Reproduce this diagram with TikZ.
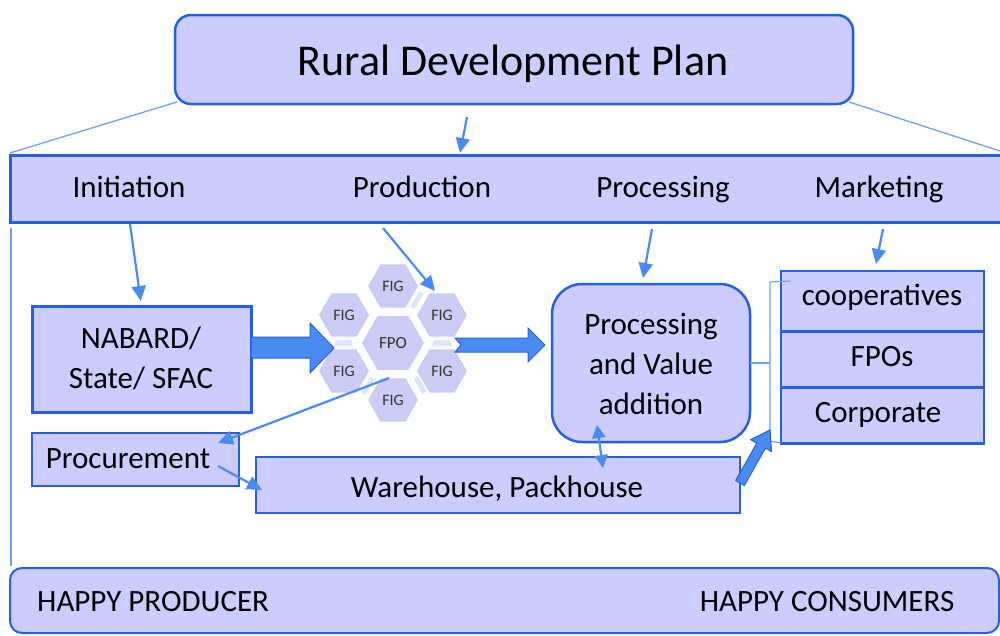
\documentclass[tikz,border=0pt]{standalone}
\usepackage{fontspec}
\setmainfont{Carlito}
\usetikzlibrary{arrows.meta,shapes.geometric}
\definecolor{boxfill}{HTML}{CCCCFF}
\definecolor{boxline}{HTML}{2560E4}
\definecolor{arrowblue}{HTML}{4A8BF2}
\definecolor{thinline}{HTML}{6AA2F2}
\definecolor{hexfill}{HTML}{CBCBF3}
\definecolor{gapfill}{HTML}{DDE5F8}
\begin{document}
\begin{tikzpicture}[x=1pt,y=-1pt,
  box/.style={draw=boxline,fill=boxfill,line width=2.5pt,inner sep=0pt,outer sep=0pt},
  lbl/.style={inner sep=0pt,font=\fontsize{31}{40}\selectfont,text=black,align=center},
  hexcell/.style={regular polygon,regular polygon sides=6,fill=hexfill,inner sep=0pt,
    minimum size=50pt,font=\fontsize{16}{18}\selectfont,text=black!80},
  gap/.style={fill=gapfill},
  thinarrow/.style={draw=arrowblue,line width=2.2pt,-{Triangle[length=15pt,width=14pt]}},
  guide/.style={draw=thinline,line width=1.3pt},
  fatarrow/.style={fill=arrowblue,draw=boxline,line width=1pt,line join=miter}
]
\useasboundingbox (0,0) rectangle (1000,635);

% ---- headline box and the bar of stages
\node[box,rounded corners=16pt,minimum width=678pt,minimum height=89pt] (plan) at (514,59.5) {};
\node[lbl,anchor=base,font=\fontsize{44}{50}\selectfont] (plantext) at (513,75) {Rural Development Plan};

\node[box,line width=3pt,minimum width=994pt,minimum height=67pt] (stages) at (507,188.5) {};
\node[lbl,anchor=base] (initiation) at (129,197) {Initiation};
\node[lbl,anchor=base] (production) at (422,197) {Production};
\node[lbl,anchor=base] (processing) at (663,197) {Processing};
\node[lbl,anchor=base] (marketing)  at (879,197) {Marketing};

% guide lines from the plan down to the stage bar
\coordinate (leftfoot) at (10,153);
\coordinate (rightfoot) at (1000,151);
\draw[guide] (plan.south west) ++(2,-2) -- (leftfoot);
\draw[guide] (plan.south east) ++(-4,-2) -- (rightfoot);
\coordinate (sideTop) at (11,228);
\coordinate (sideBot) at (11,566);
\draw[guide] (sideTop) -- (sideBot);

% ---- left column
\node[box,line width=3pt,minimum width=219pt,minimum height=106pt] (nabard) at (141.5,359) {};
\node[lbl] (nabardtext) at (141,358) {NABARD/\\State/ SFAC};

\node[box,minimum width=207pt,minimum height=53pt] (procure) at (135.5,459.5) {};
\node[lbl,anchor=base] (procuretext) at (128,468) {Procurement};

% ---- cluster of interest groups around the FPO
\fill[gap] (336,340) -- (351,340) -- (353,346) -- (334,346) -- cycle;
\fill[gap] (434,340) -- (450,340) -- (452,346) -- (432,346) -- cycle;
\fill[gap] (423.7,293.4) -- (419.3,290.9) -- (410.3,306.6) -- (414.7,309.1) -- cycle;
\fill[gap] (422.3,394.0) -- (426.7,391.5) -- (417.7,376.0) -- (413.3,378.5) -- cycle;
\fill[gap] (374.7,379.5) -- (370.3,377.0) -- (361.3,392.6) -- (365.7,395.1) -- cycle;
\node[hexcell,minimum size=62pt,font=\fontsize{17}{19}\selectfont] (fpo) at (393,343) {FPO};
\node[hexcell] (figN)  at (393,286) {FIG};
\node[hexcell] (figNE) at (442,315) {FIG};
\node[hexcell] (figSE) at (442,371) {FIG};
\node[hexcell] (figS)  at (393,400) {FIG};
\node[hexcell] (figSW) at (344,371) {FIG};
\node[hexcell] (figNW) at (344,315) {FIG};

% ---- processing and the outlets
\node[box,rounded corners=30pt,minimum width=198pt,minimum height=158pt] (proc) at (651,363) {};
\node[lbl] (proctext) at (651,364) {Processing\\and Value\\addition};

\node[box,minimum width=484pt,minimum height=56pt,line width=2pt] (warehouse) at (498,485) {};
\node[lbl,anchor=base] (warehousetext) at (497,497) {Warehouse, Packhouse};

\node[box,minimum width=203pt,minimum height=61pt] (coop) at (882.5,301.5) {};
\node[box,minimum width=203pt,minimum height=56pt] (fpos) at (882.5,359.5) {};
\node[box,minimum width=203pt,minimum height=56pt] (corp) at (882.5,415.5) {};
\node[lbl,anchor=base] (cooptext) at (882,305) {cooperatives};
\node[lbl,anchor=base] (fpostext) at (882,366) {FPOs};
\node[lbl,anchor=base] (corptext) at (878,422) {Corporate};

% bracket gathering the outlets
\coordinate (brTop) at (790,281);
\coordinate (brBot) at (781,443);
\draw[guide,line width=1.2pt] (brTop) -- (770,282) -- (770,441) -- (brBot);
\draw[guide,line width=1.2pt] (proc.east) -- (770,363);

% ---- bottom bar
\node[box,rounded corners=12pt,line width=2pt,minimum width=989pt,minimum height=65pt] (happy) at (504.5,600.5) {};
\node[lbl,anchor=base west] (producer) at (37,611) {HAPPY PRODUCER};
\node[lbl,anchor=base] (consumers) at (827,611) {HAPPY CONSUMERS};

% ---- thin arrows
\coordinate (planArr) at (467,117);
\coordinate (stagesTop) at (460,153);
\draw[thinarrow] (planArr) -- (stagesTop);

\coordinate (initFoot) at (130,224);
\draw[thinarrow,shorten >=5pt] (initFoot) -- (nabard.north);

\coordinate (prodFoot) at (383,228);
\coordinate (figTip) at (435,291);
\draw[thinarrow] (prodFoot) -- (figTip);

\coordinate (procFoot) at (652,229);
\coordinate (procTip) at (643,278);
\draw[thinarrow] (procFoot) -- (procTip);

\coordinate (markFoot) at (883,229);
\coordinate (markTip) at (876,264);
\draw[thinarrow] (markFoot) -- (markTip);

\coordinate (figOut) at (389,378);
\coordinate (procureIn) at (218,443);
\draw[thinarrow] (figOut) -- (procureIn);

\coordinate (procureOut) at (218,466);
\coordinate (warehouseIn) at (262,490);
\draw[thinarrow] (procureOut) -- (warehouseIn);

\coordinate (procLow) at (597,425);
\coordinate (whHigh) at (603,468);
\draw[draw=arrowblue,line width=2.2pt,{Triangle[length=13pt,width=13pt]}-{Triangle[length=13pt,width=13pt]}] (procLow) -- (whHigh);

% ---- block arrows
\draw[fatarrow] (nabard.east |- 0,337) -- (310,337) -- (310,323) -- (334,348) -- (310,373) -- (310,358) -- (nabard.east |- 0,358) -- cycle;
\draw[fatarrow] (455,338) -- (528,338) -- (528,328) -- (545,345) -- (528,362) -- (528,352) -- (455,352) -- (461,345) -- cycle;
\draw[fatarrow] (735.7,480.5) -- (756.8,443.1) -- (750.7,439.7) -- (770,430) -- (771.5,451.5) -- (765.4,448.1) -- (744.3,485.5) -- cycle;
\end{tikzpicture}
\end{document}
